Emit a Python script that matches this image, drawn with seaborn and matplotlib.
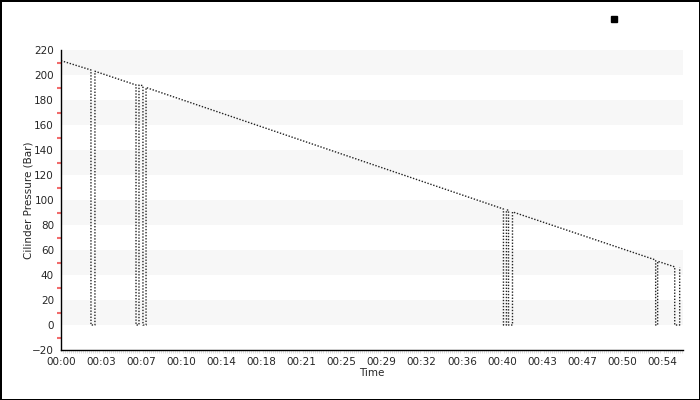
import seaborn as sns
import matplotlib.pyplot as plt
import pandas as pd
import numpy as np
from matplotlib.lines import Line2D

# cylinder pressure log (time in minutes, pressure in bar)
time_min = [0.0, 2.73, 2.73, 3.09, 3.09, 6.82, 6.82, 7.09, 7.09, 7.45, 7.45, 7.73, 7.73,
            40.18, 40.18, 40.45, 40.45, 40.64, 40.64, 41.0, 41.0,
            54.0, 54.0, 54.18, 54.18, 55.73, 55.73, 56.18, 56.18]
pressure = [211.5, 204, 0, 0, 203, 192, 0, 0, 192, 191.5, 0, 0, 190,
            92.8, 0, 0, 92, 92, 0, 0, 90.5,
            52, 0, 0, 51, 46.5, 0, 0, 46]

x_tick_step = 3.64
x_tick_labels = ["00:00", "00:03", "00:07", "00:10", "00:14", "00:18", "00:21", "00:25",
                 "00:29", "00:32", "00:36", "00:40", "00:43", "00:47", "00:50", "00:54"]
y_ticks = list(range(-20, 221, 20))
band_starts = [0, 40, 80, 120, 160, 200]

df = pd.DataFrame({"Time": time_min, "Pressure": pressure})

sns.set_style("white")
plt.rcParams["font.family"] = ["DejaVu Sans"]

fig = plt.figure(figsize=(7, 4), dpi=100, edgecolor="black", linewidth=2)
ax = fig.add_axes([0.087, 0.125, 0.889, 0.75])

for b in band_starts:
    ax.axhspan(b, b + 20, color="#f7f7f7", lw=0, zorder=0)

sns.lineplot(data=df, x="Time", y="Pressure", sort=False, estimator=None,
             color="#222222", linewidth=1, linestyle=(0, (1, 1.2)), ax=ax)

ax.set_xlim(0, 56.5)
ax.set_ylim(-20, 220)
ax.set_xticks([i * x_tick_step for i in range(len(x_tick_labels))])
ax.set_xticklabels(x_tick_labels)
ax.set_xticks(np.arange(0, 56.5, x_tick_step / 20), minor=True)
ax.set_yticks(y_ticks)
ax.set_yticks(np.arange(-10, 220, 20), minor=True)

ax.tick_params(axis="both", which="major", direction="out", length=4, width=1,
               color="black", labelsize=7.5, pad=1)
ax.tick_params(axis="y", which="minor", direction="out", length=3, width=1.5,
               color="#f26b6b", left=True)
ax.tick_params(axis="x", which="minor", direction="out", length=2, width=0.4,
               color="#c8c8c8", bottom=True)

for s in ["top", "right"]:
    ax.spines[s].set_visible(False)
for s in ["left", "bottom"]:
    ax.spines[s].set_color("black")
    ax.spines[s].set_linewidth(1)

ax.set_xlabel("Time", fontsize=7.5, labelpad=0.5)
ax.set_ylabel("Cilinder Pressure (Bar)", fontsize=7.5, labelpad=-1)

handle = Line2D([], [], marker="s", color="black", linestyle="none", markersize=5)
fig.legend(handles=[handle], labels=[""], loc="upper left",
           bbox_to_anchor=(0.862, 0.985), frameon=False, handlelength=0.5,
           handletextpad=0, borderpad=0)

fig.savefig("out.png", dpi=100, edgecolor=fig.get_edgecolor())
